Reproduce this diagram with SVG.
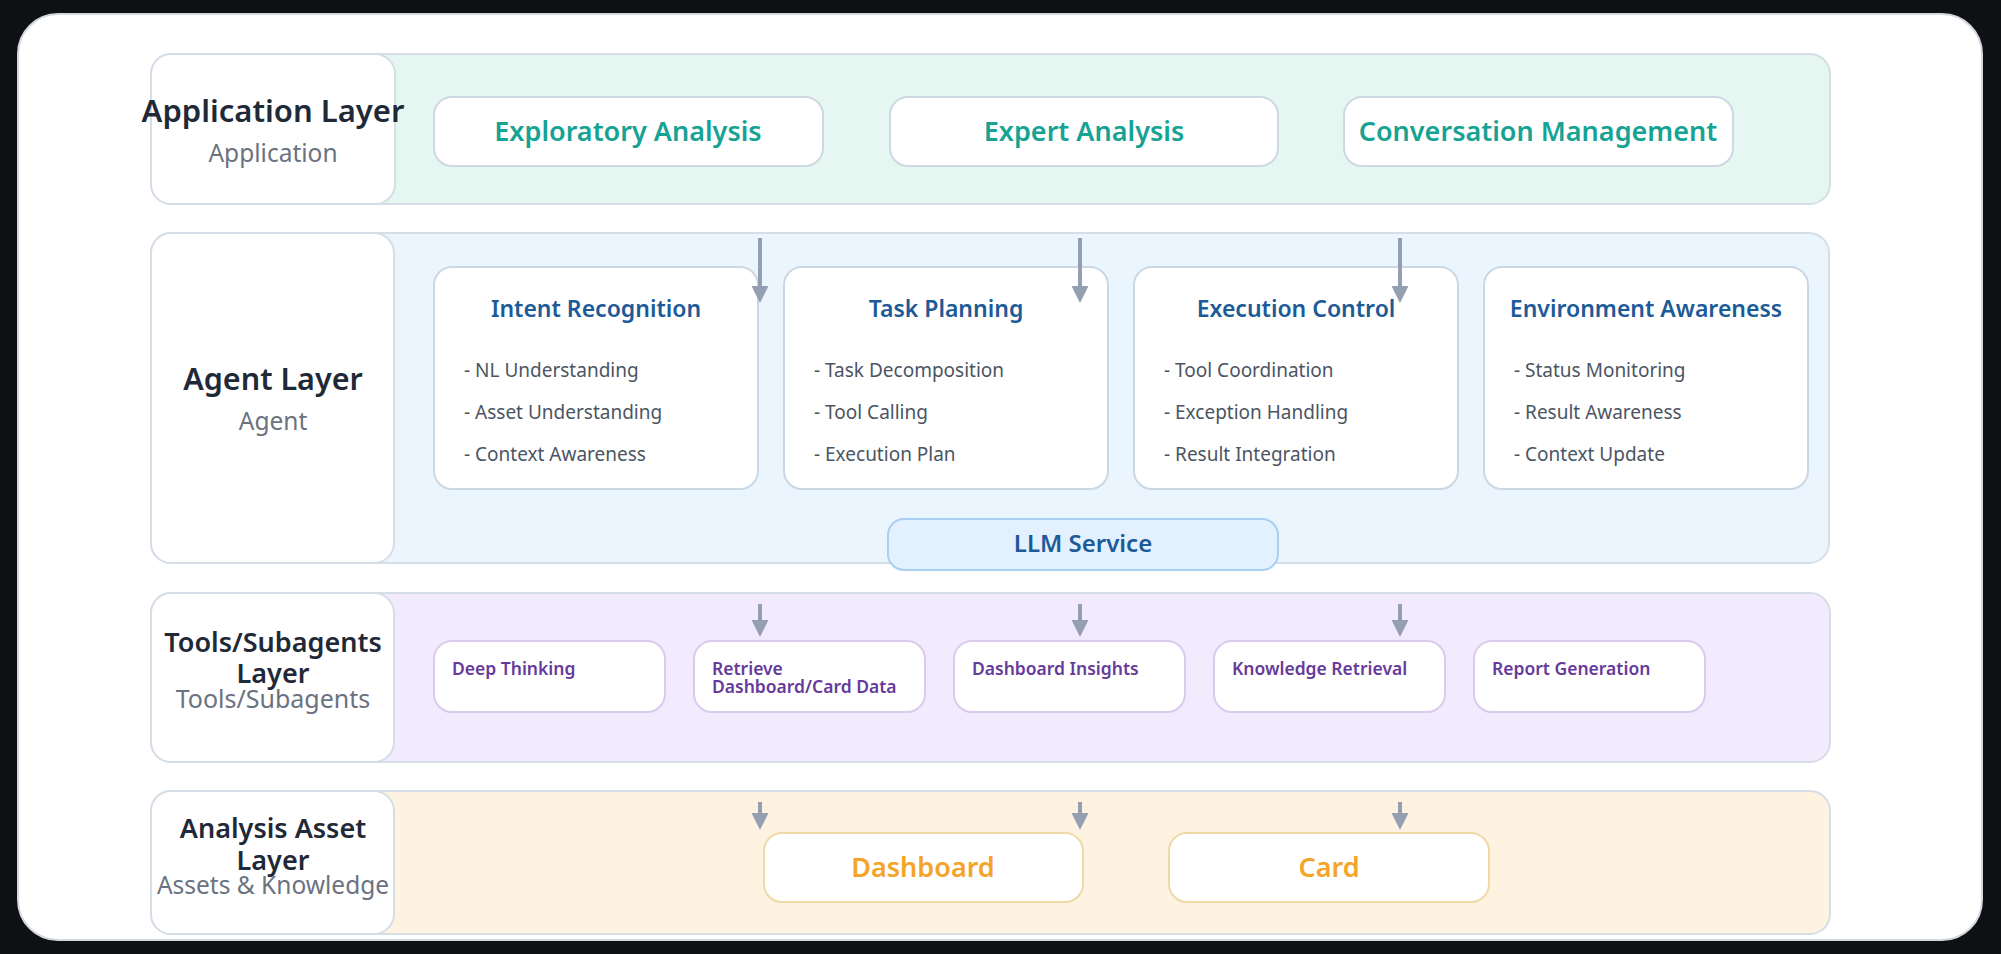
<svg xmlns="http://www.w3.org/2000/svg" width="2001" height="954" viewBox="0 0 2001 954">
<defs>
<style>
text{font-family:"Noto Sans","Open Sans","Liberation Sans",sans-serif}
.band{stroke:#d5dde6;stroke-width:2}
.lbl{fill:#fff;stroke:#d5dde6;stroke-width:2}
.lt{fill:#1f2937;font-weight:600;text-anchor:middle}
.ls{fill:#6b7280;font-size:24.5px;text-anchor:middle}
.an{fill:#fff;stroke:#cdd8e2;stroke-width:2}
.at{fill:#16a394;font-size:27px;font-weight:600;text-anchor:middle}
.gn{fill:#fff;stroke:#cbd8e4;stroke-width:2}
.gt{fill:#1d5a98;font-size:23px;font-weight:600;text-anchor:middle}
.gi{fill:#4b5563;font-size:19px}
.tn{fill:#fff;stroke:#d8cbee;stroke-width:2}
.tt{fill:#663a9b;font-size:17.5px;font-weight:600}
.sn{fill:#fff;stroke:#efd9a9;stroke-width:2}
.st{fill:#f5a42a;font-size:27px;font-weight:600;text-anchor:middle}
.arr{stroke:#94a0b2;stroke-width:4;fill:none}
</style>
<marker id="ah" viewBox="0 0 10 10" refX="0" refY="5" markerUnits="userSpaceOnUse" markerWidth="17" markerHeight="18" orient="auto">
<path d="M0,0 L10,5 L0,10 z" fill="#94a0b2"/>
</marker>
</defs>
<rect x="0" y="0" width="2001" height="954" fill="#0f1014"/>
<rect x="18" y="14" width="1964" height="926" rx="40" fill="#fff" stroke="#d3d7de" stroke-width="2"/>

<g id="layer-application">
<rect class="band" x="151" y="54" width="1679" height="150" rx="20" fill="#e6f6f0"/>
<rect class="lbl" x="151" y="54" width="244" height="150" rx="20"/>
<text class="lt" x="273" y="122" font-size="31">Application Layer</text>
<text class="ls" x="273" y="162">Application</text>
</g>
<g id="node-exploratory"><rect class="an" x="434" y="97" width="389" height="69" rx="18"/><text class="at" x="628" y="141">Exploratory Analysis</text></g>
<g id="node-expert"><rect class="an" x="890" y="97" width="388" height="69" rx="18"/><text class="at" x="1084" y="141">Expert Analysis</text></g>
<g id="node-conversation"><rect class="an" x="1344" y="97" width="389" height="69" rx="18"/><text class="at" x="1538" y="141">Conversation Management</text></g>

<g id="layer-agent">
<rect class="band" x="151" y="233" width="1678" height="330" rx="20" fill="#ebf5fe"/>
<rect class="lbl" x="151" y="233" width="243" height="330" rx="20"/>
<text class="lt" x="273" y="390" font-size="30.5">Agent Layer</text>
<text class="ls" x="273" y="430">Agent</text>
</g>
<g id="node-intent"><rect class="gn" x="434" y="267" width="324" height="222" rx="18"/><text class="gt" x="596" y="317">Intent Recognition</text>
<text class="gi" x="464" y="377">- NL Understanding</text><text class="gi" x="464" y="419">- Asset Understanding</text><text class="gi" x="464" y="461">- Context Awareness</text></g>
<g id="node-task"><rect class="gn" x="784" y="267" width="324" height="222" rx="18"/><text class="gt" x="946" y="317">Task Planning</text>
<text class="gi" x="814" y="377">- Task Decomposition</text><text class="gi" x="814" y="419">- Tool Calling</text><text class="gi" x="814" y="461">- Execution Plan</text></g>
<g id="node-execution"><rect class="gn" x="1134" y="267" width="324" height="222" rx="18"/><text class="gt" x="1296" y="317">Execution Control</text>
<text class="gi" x="1164" y="377">- Tool Coordination</text><text class="gi" x="1164" y="419">- Exception Handling</text><text class="gi" x="1164" y="461">- Result Integration</text></g>
<g id="node-environment"><rect class="gn" x="1484" y="267" width="324" height="222" rx="18"/><text class="gt" x="1646" y="317">Environment Awareness</text>
<text class="gi" x="1514" y="377">- Status Monitoring</text><text class="gi" x="1514" y="419">- Result Awareness</text><text class="gi" x="1514" y="461">- Context Update</text></g>
<g id="node-llm"><rect x="888" y="519" width="390" height="51" rx="16" fill="#e3f0fd" stroke="#a9cff2" stroke-width="2"/><text x="1083" y="552" fill="#1d5a98" font-size="24" font-weight="600" text-anchor="middle">LLM Service</text></g>

<g id="layer-tools">
<rect class="band" x="151" y="593" width="1679" height="169" rx="20" fill="#f2ebfe"/>
<rect class="lbl" x="151" y="593" width="243" height="169" rx="20"/>
<text class="lt" x="273" y="652" font-size="27">Tools/Subagents</text>
<text class="lt" x="273" y="683" font-size="27">Layer</text>
<text class="ls" x="273" y="708" style="font-size:25px">Tools/Subagents</text>
</g>
<g id="node-deep"><rect class="tn" x="434" y="641" width="231" height="71" rx="18"/><text class="tt" x="452" y="675">Deep Thinking</text></g>
<g id="node-retrieve"><rect class="tn" x="694" y="641" width="231" height="71" rx="18"/><text class="tt" x="712" y="675">Retrieve</text><text class="tt" x="712" y="693">Dashboard/Card Data</text></g>
<g id="node-insights"><rect class="tn" x="954" y="641" width="231" height="71" rx="18"/><text class="tt" x="972" y="675">Dashboard Insights</text></g>
<g id="node-knowledge"><rect class="tn" x="1214" y="641" width="231" height="71" rx="18"/><text class="tt" x="1232" y="675">Knowledge Retrieval</text></g>
<g id="node-report"><rect class="tn" x="1474" y="641" width="231" height="71" rx="18"/><text class="tt" x="1492" y="675">Report Generation</text></g>

<g id="layer-asset">
<rect class="band" x="151" y="791" width="1679" height="143" rx="20" fill="#fef3e0"/>
<rect class="lbl" x="151" y="791" width="243" height="143" rx="20"/>
<text class="lt" x="273" y="838" font-size="27">Analysis Asset</text>
<text class="lt" x="273" y="870" font-size="27">Layer</text>
<text class="ls" x="273" y="894">Assets &amp; Knowledge</text>
</g>
<g id="node-dashboard"><rect class="sn" x="764" y="833" width="319" height="69" rx="18"/><text class="st" x="923" y="877">Dashboard</text></g>
<g id="node-card"><rect class="sn" x="1169" y="833" width="320" height="69" rx="18"/><text class="st" x="1329" y="877">Card</text></g>

<g id="connectors">
<line class="arr" x1="760" y1="238" x2="760" y2="286" marker-end="url(#ah)"/>
<line class="arr" x1="1080" y1="238" x2="1080" y2="286" marker-end="url(#ah)"/>
<line class="arr" x1="1400" y1="238" x2="1400" y2="286" marker-end="url(#ah)"/>
<line class="arr" x1="760" y1="604" x2="760" y2="620" marker-end="url(#ah)"/>
<line class="arr" x1="1080" y1="604" x2="1080" y2="620" marker-end="url(#ah)"/>
<line class="arr" x1="1400" y1="604" x2="1400" y2="620" marker-end="url(#ah)"/>
<line class="arr" x1="760" y1="802" x2="760" y2="813" marker-end="url(#ah)"/>
<line class="arr" x1="1080" y1="802" x2="1080" y2="813" marker-end="url(#ah)"/>
<line class="arr" x1="1400" y1="802" x2="1400" y2="813" marker-end="url(#ah)"/>
</g>
</svg>
